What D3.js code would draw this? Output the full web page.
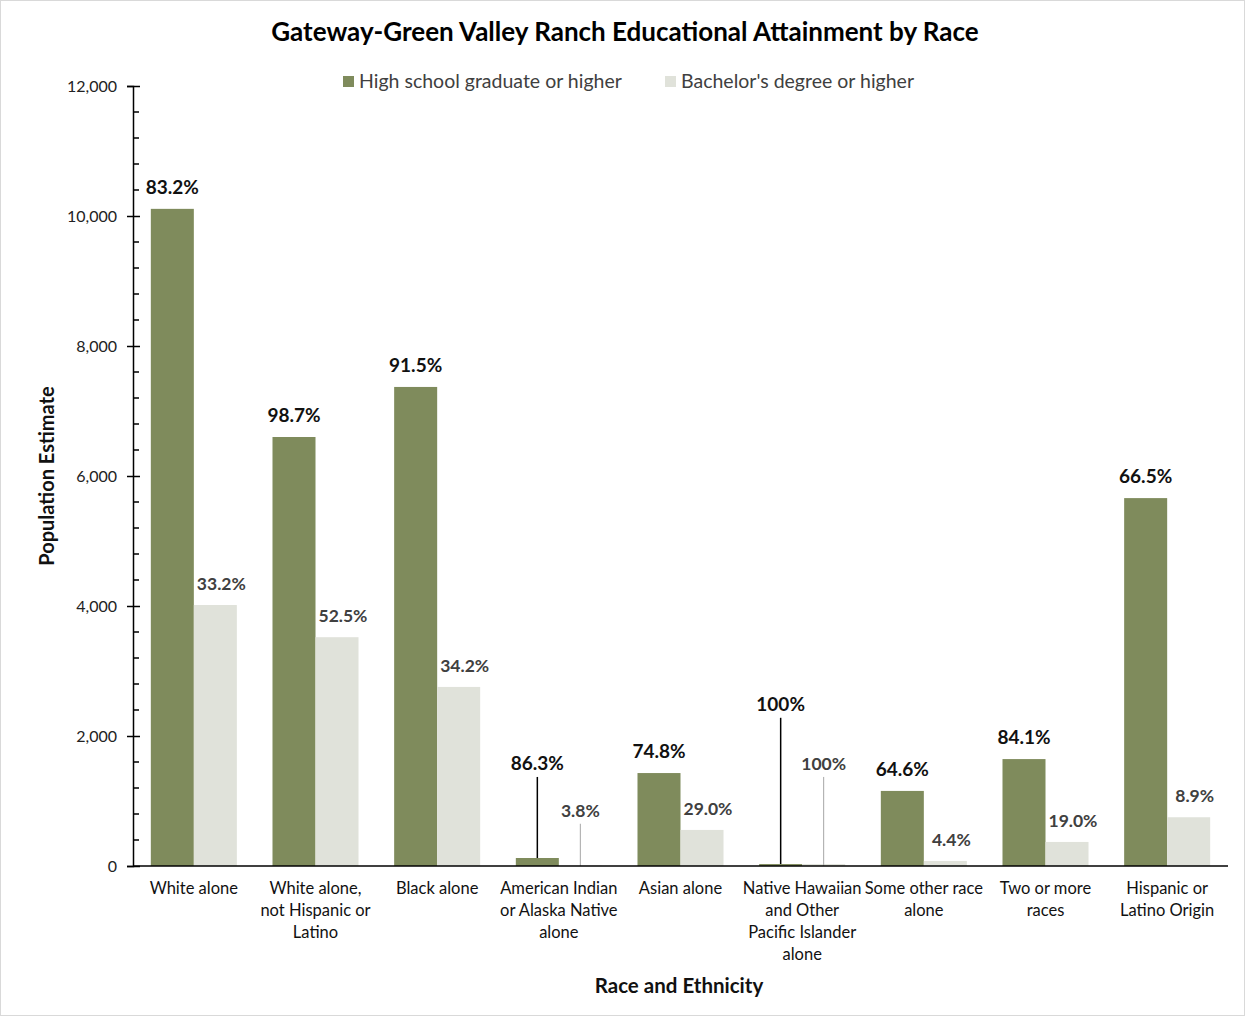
<!DOCTYPE html>
<html>
<head>
<meta charset="utf-8">
<script src="https://cdn.jsdelivr.net/npm/d3@7"></script>
<style>
  html, body { margin: 0; padding: 0; background: #fff; }
  svg { display: block; font-family: Lato, "Open Sans", sans-serif; }
</style>
</head>
<body>
<svg id="chart" width="1247" height="1016"></svg>
<script>
// Educational attainment (population 25+) by race, Gateway-Green Valley Ranch
const categories = [
  "White alone",
  "White alone, not Hispanic or Latino",
  "Black alone",
  "American Indian or Alaska Native alone",
  "Asian alone",
  "Native Hawaiian and Other Pacific Islander alone",
  "Some other race alone",
  "Two or more races",
  "Hispanic or Latino Origin"
];
const categoryLines = [
  ["White alone"],
  ["White alone,", "not Hispanic or", "Latino"],
  ["Black alone"],
  ["American Indian", "or Alaska Native", "alone"],
  ["Asian alone"],
  ["Native Hawaiian", "and Other", "Pacific Islander", "alone"],
  ["Some other race", "alone"],
  ["Two or more", "races"],
  ["Hispanic or", "Latino Origin"]
];
const seriesNames = ["High school graduate or higher", "Bachelor's degree or higher"];
const highSchool = [10110, 6600, 7370, 123, 1430, 30, 1155, 1645, 5660];
const bachelors = [4015, 3520, 2755, 6, 555, 30, 78, 370, 750];
const highSchoolPct = ["83.2%", "98.7%", "91.5%", "86.3%", "74.8%", "100%", "64.6%", "84.1%", "66.5%"];
const bachelorsPct = ["33.2%", "52.5%", "34.2%", "3.8%", "29.0%", "100%", "4.4%", "19.0%", "8.9%"];
const yTicks = [0, 2000, 4000, 6000, 8000, 10000, 12000];

const colors = ["#7f8b5c", "#e0e2da"];

// Labels for tiny bars are lifted to this value and tied back with a leader line
const liftedLabels = {
  "American Indian or Alaska Native alone": [1370, 650],
  "Native Hawaiian and Other Pacific Islander alone": [2280, 1370]
};

const svg = d3.select("#chart");
const W = 1247, H = 1016;
const plot = { left: 133, right: 1228, top: 86, bottom: 866 };

// frame
svg.append("rect")
  .attr("x", 0.5).attr("y", 0.5)
  .attr("width", W - 3).attr("height", H - 1)
  .attr("fill", "#fff").attr("stroke", "#d9d9d9");

const x0 = d3.scaleBand()
  .domain(categories)
  .range([plot.left, plot.right])
  .paddingInner(0.293)
  .paddingOuter(0.1465);

const x1 = d3.scaleBand()
  .domain([0, 1])
  .range([0, x0.bandwidth()]);

const y = d3.scaleLinear()
  .domain([0, 12000])
  .range([plot.bottom, plot.top]);

// title
svg.append("text")
  .attr("x", 625).attr("y", 41)
  .attr("text-anchor", "middle")
  .attr("font-size", 26).attr("font-weight", 700)
  .attr("fill", "#000")
  .text("Gateway-Green Valley Ranch Educational Attainment by Race");

// legend
const legendItems = [
  { x: 343, label: seriesNames[0], color: colors[0] },
  { x: 665, label: seriesNames[1], color: colors[1] }
];
const lg = svg.append("g").selectAll("g").data(legendItems).join("g");
lg.append("rect")
  .attr("x", d => d.x).attr("y", 76)
  .attr("width", 11).attr("height", 11)
  .attr("fill", d => d.color);
lg.append("text")
  .attr("x", d => d.x + 16).attr("y", 88)
  .attr("font-size", 19.5).attr("fill", "#404040")
  .text(d => d.label);

// data rows
const rows = categories.map((c, i) => ({
  cat: c,
  lines: categoryLines[i],
  vals: [highSchool[i], bachelors[i]],
  pcts: [highSchoolPct[i], bachelorsPct[i]]
}));

// bars
const groups = svg.append("g").selectAll("g")
  .data(rows).join("g")
  .attr("transform", d => `translate(${x0(d.cat)},0)`);

groups.selectAll("rect")
  .data(d => d.vals.map((v, k) => ({ v, k })))
  .join("rect")
  .attr("x", d => x1(d.k))
  .attr("y", d => y(d.v))
  .attr("width", x1.bandwidth())
  .attr("height", d => y(0) - y(d.v))
  .attr("fill", d => colors[d.k]);

// value labels
rows.forEach(r => {
  const lifted = liftedLabels[r.cat];
  r.vals.forEach((v, k) => {
    const cx = x0(r.cat) + x1(k) + x1.bandwidth() / 2;
    const isHs = k === 0;
    const size = isHs ? 19 : 17.5;
    const fill = isHs ? "#111" : "#404040";
    if (lifted) {
      const top = y(lifted[k]);
      svg.append("line")
        .attr("x1", cx).attr("x2", cx)
        .attr("y1", top).attr("y2", isHs ? y(v) : y(0))
        .attr("stroke", isHs ? "#000" : "#a6a6a6")
        .attr("stroke-width", isHs ? 1.5 : 1);
      svg.append("text")
        .attr("x", cx).attr("y", top - 7)
        .attr("text-anchor", "middle")
        .attr("font-size", size).attr("font-weight", 700)
        .attr("fill", fill)
        .text(r.pcts[k]);
    } else {
      svg.append("text")
        .attr("x", cx + (isHs ? 0 : 6))
        .attr("y", y(v) - 15)
        .attr("text-anchor", "middle")
        .attr("font-size", size).attr("font-weight", 700)
        .attr("fill", fill)
        .text(r.pcts[k]);
    }
  });
});

// y axis
const yAxis = svg.append("g")
  .attr("transform", `translate(${plot.left},0)`)
  .call(d3.axisLeft(y).tickValues(yTicks).tickFormat(d3.format(",")).tickSize(6).tickPadding(10));
yAxis.select(".domain").attr("stroke", "#000").attr("stroke-width", 1.5);
yAxis.selectAll(".tick line").attr("stroke", "#000").attr("stroke-width", 1.5)
  .attr("x1", 7).attr("x2", -6);
yAxis.selectAll(".tick text")
  .attr("font-family", "Lato, sans-serif")
  .attr("font-size", 16).attr("fill", "#222");

// minor ticks every 400
const minor = d3.range(0, 12001, 400).filter(v => v % 2000 !== 0);
svg.append("g").selectAll("line").data(minor).join("line")
  .attr("x1", plot.left).attr("x2", plot.left + 6)
  .attr("y1", d => y(d)).attr("y2", d => y(d))
  .attr("stroke", "#000").attr("stroke-width", 1.5);

// x axis baseline
svg.append("line")
  .attr("x1", plot.left).attr("x2", plot.right)
  .attr("y1", y(0)).attr("y2", y(0))
  .attr("stroke", "#000").attr("stroke-width", 1.5);

// category labels
const xl = svg.append("g").selectAll("text").data(rows).join("text")
  .attr("x", d => x0(d.cat) + x0.bandwidth() / 2)
  .attr("y", 894)
  .attr("text-anchor", "middle")
  .attr("font-size", 16.5).attr("fill", "#111");
xl.selectAll("tspan").data(d => d.lines).join("tspan")
  .attr("x", function () { return d3.select(this.parentNode).attr("x"); })
  .attr("dy", (d, i) => i === 0 ? 0 : 22)
  .text(d => d);

// axis titles
svg.append("text")
  .attr("x", 679).attr("y", 993)
  .attr("text-anchor", "middle")
  .attr("font-size", 20.5).attr("font-weight", 700).attr("fill", "#111")
  .text("Race and Ethnicity");

svg.append("text")
  .attr("transform", "translate(54,476) rotate(-90)")
  .attr("text-anchor", "middle")
  .attr("font-size", 20).attr("font-weight", 700).attr("fill", "#111")
  .text("Population Estimate");
</script>
</body>
</html>
